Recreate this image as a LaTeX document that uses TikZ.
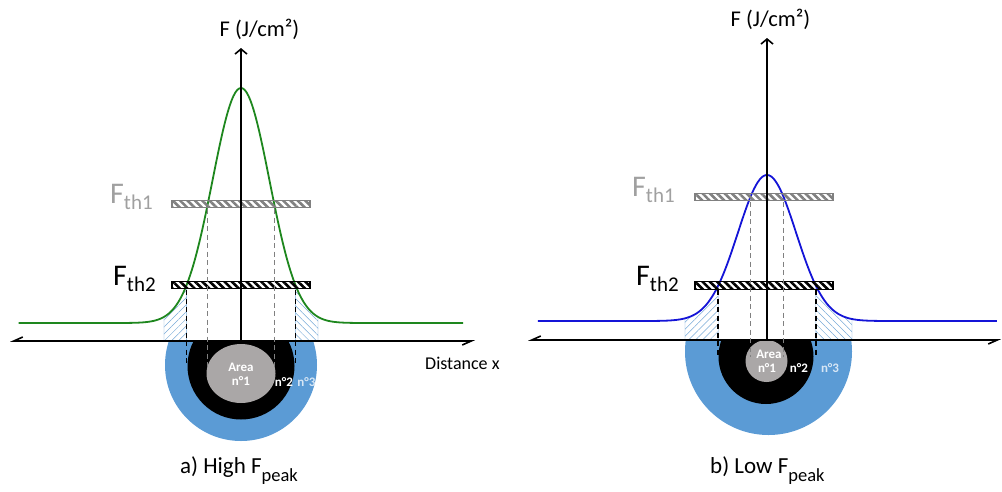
\documentclass[tikz,border=0pt]{standalone}
\usepackage{fontspec}
\setmainfont{Carlito}
\usetikzlibrary{arrows.meta,patterns.meta,shapes.geometric}
\definecolor{gcurve}{RGB}{30,135,30}
\definecolor{bcurve}{RGB}{20,20,215}
\definecolor{ringthree}{RGB}{91,155,213}
\definecolor{corecol}{RGB}{170,167,167}
\definecolor{hatchb}{RGB}{120,170,215}
\definecolor{thgray}{RGB}{128,128,128}
\definecolor{labgray}{RGB}{160,160,160}
\definecolor{nthree}{RGB}{215,230,245}
\tikzset{
  yaxis/.style={line width=1.8pt, -{Straight Barb[length=5pt,width=12pt,line width=1.6pt]}},
  xaxis/.style={line width=1.6pt, {Straight Barb[harpoon,swap,length=9pt,width=8pt,line width=1.6pt]}-{Straight Barb[harpoon,swap,length=9pt,width=8pt,line width=1.6pt]}},
  curve/.style={line width=1.8pt},
  hatchL/.style={pattern={Lines[angle=45,distance=5pt,line width=0.5pt]}, pattern color=hatchb, draw=hatchb, line width=0.4pt},
  hatchR/.style={pattern={Lines[angle=-45,distance=5pt,line width=0.5pt]}, pattern color=hatchb, draw=hatchb, line width=0.4pt},
  barone/.style={rectangle, inner sep=0, minimum width=138pt, minimum height=7.5pt, draw=thgray, line width=1.2pt, pattern={Lines[angle=-45,distance=5.2pt,line width=2.6pt]}, pattern color=thgray},
  bartwo/.style={rectangle, inner sep=0, minimum width=138pt, minimum height=7.5pt, draw=black, line width=1.2pt, pattern={Lines[angle=-45,distance=5.2pt,line width=2.6pt]}, pattern color=black},
  gdash/.style={thgray, line width=1.5pt, dash pattern=on 5pt off 3.5pt},
  kdash/.style={black, line width=1.5pt, dash pattern=on 5pt off 3.5pt},
  axlab/.style={anchor=base, inner sep=0, font=\fontsize{22.5}{26}\selectfont},
  thlab/.style={anchor=base west, inner sep=0, font=\fontsize{30}{34}\selectfont},
  caption/.style={anchor=base west, inner sep=0, font=\fontsize{23}{27}\selectfont},
  arealab/.style={inner sep=0, font=\fontsize{13}{15}\selectfont\bfseries, text=white},
  disc/.style={circle, inner sep=0, draw=none},
}
\newcommand{\thsub}[1]{\raisebox{-6pt}{\fontsize{21}{24}\selectfont #1}}
\newcommand{\pksub}[1]{\raisebox{-8pt}{\fontsize{18.5}{21}\selectfont #1}}
\begin{document}
\begin{tikzpicture}[x=1pt,y=-1pt]
\useasboundingbox (0,0) rectangle (1002,491);

% ================= LEFT PANEL =================
\fill[hatchL] (164,341) -- plot[domain=-2.702:-1.909,samples=30,smooth] ({241+28.5*\x},{323-235*exp(-0.5*\x*\x)}) -- (186.6,341) -- cycle;
\fill[hatchR] (295.4,341) -- plot[domain=1.909:2.702,samples=30,smooth] ({241+28.5*\x},{323-235*exp(-0.5*\x*\x)}) -- (318,341) -- cycle;
\begin{scope}
\clip (140,341) rectangle (345,470);
\node[disc, fill=ringthree, minimum size=152pt] (aring3) at (241,365) {};
\node[disc, fill=black, minimum size=107pt] (aring2) at (241,366) {};
\end{scope}
\node[ellipse, fill=corecol, inner sep=0, minimum width=69pt, minimum height=59pt] (acore) at (241,373.5) {};
\draw[curve, gcurve] plot[domain=-7.8:7.8,samples=241,smooth] ({241+28.5*\x},{323-235*exp(-0.5*\x*\x)});
\node[barone] (abar1) at (241,204) {};
\node[bartwo] (abar2) at (241,285) {};
\coordinate (aO) at (241,341);
\coordinate (aTop) at (241,48);
\coordinate (aL) at (10,341);
\coordinate (aR) at (475,341);
\draw[yaxis] (aO) -- (aTop);
\draw[xaxis] (aL) -- (aR);
\coordinate (ag1t) at (207.7,209); \coordinate (ag1b) at (207.7,367);
\coordinate (ag2t) at (274.3,209); \coordinate (ag2b) at (274.3,367);
\coordinate (ak1t) at (186.6,290); \coordinate (ak1b) at (186.6,365);
\coordinate (ak2t) at (295.4,290); \coordinate (ak2b) at (295.4,365);
\draw[gdash] (ag1t) -- (ag1b);
\draw[gdash] (ag2t) -- (ag2b);
\draw[kdash] (ak1t) -- (ak1b);
\draw[kdash] (ak2t) -- (ak2b);
\node[axlab] (aylab) at (259.5,36.5) {F (J/cm²)};
\node[thlab, text=labgray] (ath1) at (110,203) {F\thsub{th1}};
\node[thlab] (ath2) at (113,285.5) {F\thsub{th2}};
\node[anchor=base west, inner sep=0, font=\fontsize{18}{21}\selectfont] (adist) at (425,369) {Distance x};
\node[arealab] (aarea) at (241,367) {Area};
\node[arealab] (an1) at (241,381.5) {n°1};
\node[arealab] (an2) at (284,382) {n°2};
\node[arealab, text=nthree] (an3) at (306.5,382) {n°3};
\node[caption] (acap) at (180,473) {a) High F\pksub{peak}};

% ================= RIGHT PANEL =================
\fill[hatchL] (685,340) -- plot[domain=-2.828:-1.682,samples=30,smooth] ({767+29*\x},{321-146*exp(-0.5*\x*\x)}) -- (718.2,340) -- cycle;
\fill[hatchR] (815.8,340) -- plot[domain=1.682:2.931,samples=30,smooth] ({767+29*\x},{321-146*exp(-0.5*\x*\x)}) -- (852,340) -- cycle;
\begin{scope}
\clip (670,340) rectangle (870,470);
\node[disc, fill=ringthree, minimum size=167pt] (bring3) at (768.5,351.5) {};
\node[disc, fill=black, minimum size=95pt] (bring2) at (766,356.5) {};
\node[disc, fill=corecol, minimum size=42pt] (bcore) at (766.5,361) {};
\end{scope}
\draw[curve, bcurve] plot[domain=-7.9:7.93,samples=241,smooth] ({767+29*\x},{321-146*exp(-0.5*\x*\x)});
\node[barone] (bbar1) at (764,197) {};
\node[bartwo] (bbar2) at (764,285.5) {};
\coordinate (bO) at (767,340);
\coordinate (bTop) at (767,38);
\coordinate (bL) at (528,340);
\coordinate (bR) at (1001,340);
\draw[yaxis] (bO) -- (bTop);
\draw[xaxis] (bL) -- (bR);
\coordinate (bg1t) at (750.4,202); \coordinate (bg1b) at (750.4,357);
\coordinate (bg2t) at (783.6,202); \coordinate (bg2b) at (783.6,357);
\coordinate (bk1t) at (718.2,290); \coordinate (bk1b) at (718.2,357);
\coordinate (bk2t) at (815.8,290); \coordinate (bk2b) at (815.8,357);
\draw[gdash] (bg1t) -- (bg1b);
\draw[gdash] (bg2t) -- (bg2b);
\draw[kdash] (bk1t) -- (bk1b);
\draw[kdash] (bk2t) -- (bk2b);
\node[axlab] (bylab) at (770.5,26) {F (J/cm²)};
\node[thlab, text=labgray] (bth1) at (632,196) {F\thsub{th1}};
\node[thlab] (bth2) at (636,285.5) {F\thsub{th2}};
\node[arealab] (barea) at (769,354) {Area};
\node[arealab] (bn1) at (767,368.5) {n°1};
\node[arealab] (bn2) at (799,368.5) {n°2};
\node[arealab, text=nthree] (bn3) at (830,368.5) {n°3};
\node[caption] (bcap) at (710,473) {b) Low F\pksub{peak}};
\end{tikzpicture}
\end{document}
